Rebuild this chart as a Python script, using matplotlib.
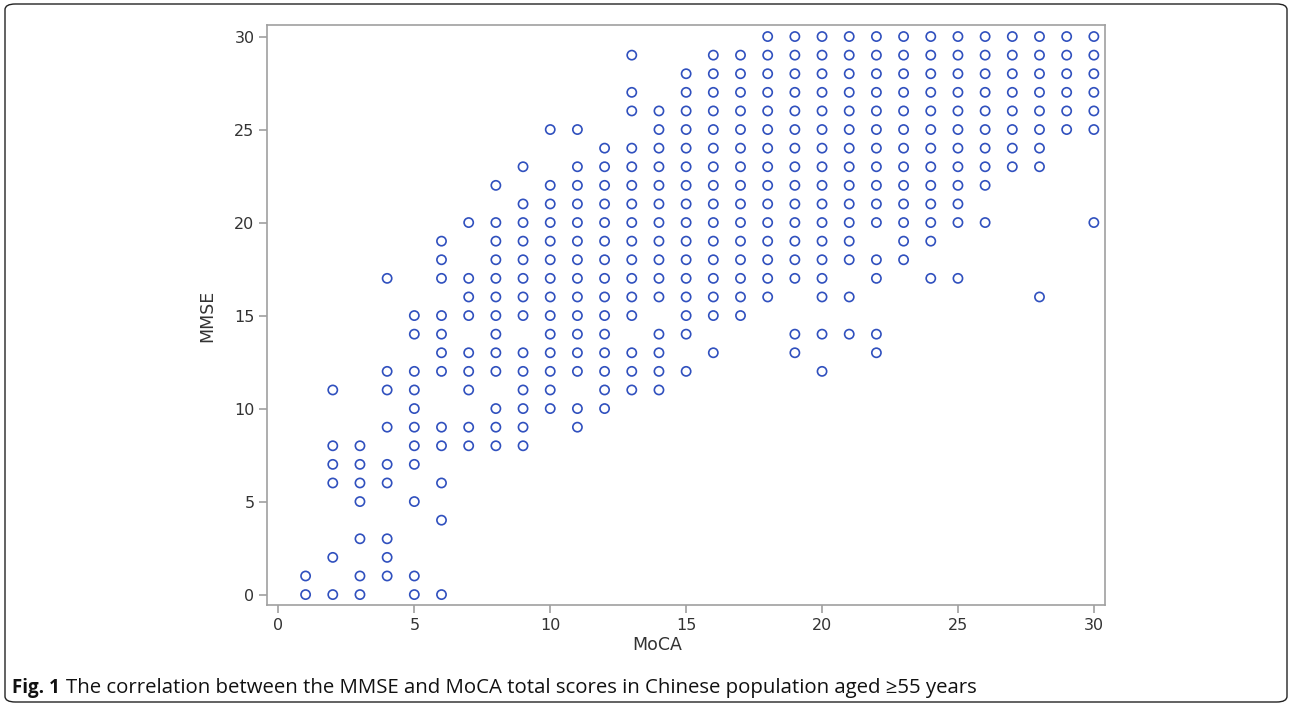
import matplotlib
matplotlib.use("Agg")
import matplotlib.pyplot as plt
from matplotlib.patches import FancyBboxPatch

# MMSE values observed for each MoCA score
moca_scores = list(range(1, 31))
mmse_by_moca = {
    1: [0, 1],
    2: [0, 2, 6, 7, 8, 11],
    3: [0, 1, 3, 5, 6, 7, 8],
    4: [1, 2, 3, 6, 7, 9, 11, 12, 17],
    5: [0, 1, 5, 7, 8, 9, 10, 11, 12, 14, 15],
    6: [0, 4, 6, 8, 9, 12, 13, 14, 15, 17, 18, 19],
    7: [8, 9, 11, 12, 13, 15, 16, 17, 20],
    8: [8, 9, 10, 12, 13, 14, 15, 16, 17, 18, 19, 20, 22],
    9: [8, 9, 10, 11, 12, 13, 15, 16, 17, 18, 19, 20, 21, 23],
    10: [10, 11, 12, 13, 14, 15, 16, 17, 18, 19, 20, 21, 22, 25],
    11: [9, 10, 12, 13, 14, 15, 16, 17, 18, 19, 20, 21, 22, 23, 25],
    12: [10, 11, 12, 13, 14, 15, 16, 17, 18, 19, 20, 21, 22, 23, 24],
    13: [11, 12, 13, 15, 16, 17, 18, 19, 20, 21, 22, 23, 24, 26, 27, 29],
    14: [11, 12, 13, 14, 16, 17, 18, 19, 20, 21, 22, 23, 24, 25, 26],
    15: [12, 14, 15, 16, 17, 18, 19, 20, 21, 22, 23, 24, 25, 26, 27, 28],
    16: [13, 15, 16, 17, 18, 19, 20, 21, 22, 23, 24, 25, 26, 27, 28, 29],
    17: [15, 16, 17, 18, 19, 20, 21, 22, 23, 24, 25, 26, 27, 28, 29],
    18: [16, 17, 18, 19, 20, 21, 22, 23, 24, 25, 26, 27, 28, 29, 30],
    19: [13, 14, 17, 18, 19, 20, 21, 22, 23, 24, 25, 26, 27, 28, 29, 30],
    20: [12, 14, 16, 17, 18, 19, 20, 21, 22, 23, 24, 25, 26, 27, 28, 29, 30],
    21: [14, 16, 18, 19, 20, 21, 22, 23, 24, 25, 26, 27, 28, 29, 30],
    22: [13, 14, 17, 18, 20, 21, 22, 23, 24, 25, 26, 27, 28, 29, 30],
    23: [18, 19, 20, 21, 22, 23, 24, 25, 26, 27, 28, 29, 30],
    24: [17, 19, 20, 21, 22, 23, 24, 25, 26, 27, 28, 29, 30],
    25: [17, 20, 21, 22, 23, 24, 25, 26, 27, 28, 29, 30],
    26: [20, 22, 23, 24, 25, 26, 27, 28, 29, 30],
    27: [23, 24, 25, 26, 27, 28, 29, 30],
    28: [16, 23, 24, 25, 26, 27, 28, 29, 30],
    29: [25, 26, 27, 28, 29, 30],
    30: [20, 25, 26, 27, 28, 29, 30],
}
x_ticks = [0, 5, 10, 15, 20, 25, 30]
y_ticks = [0, 5, 10, 15, 20, 25, 30]

xs, ys = [], []
for m in moca_scores:
    for v in mmse_by_moca[m]:
        xs.append(m)
        ys.append(v)

W, H = 1292, 706
fig = plt.figure(figsize=(W / 100, H / 100), dpi=100)
ax = fig.add_axes([267 / W, 1 - 605 / H, (1105 - 267) / W, (605 - 25) / H])

ax.scatter(xs, ys, s=44, facecolors="none", edgecolors="#3050BE", linewidths=1.2, zorder=3)

ax.set_xlim(-0.42, 30.41)
ax.set_ylim(-0.56, 30.62)
ax.set_xticks(x_ticks)
ax.set_yticks(y_ticks)
for sp in ax.spines.values():
    sp.set_color("#A0A0A0")
    sp.set_linewidth(1.2)
ax.tick_params(axis="both", colors="#A0A0A0", length=6, width=1.2,
               labelcolor="#333333", labelsize=11.5, pad=3)
ax.set_xlabel("MoCA", fontsize=12.5, color="#333333")
ax.set_ylabel("MMSE", fontsize=12.5, color="#333333")
# label positions (pixels -> axes fraction)
ax.xaxis.set_label_coords((657 - 267) / (1105 - 267), -(645 - 605) / (605 - 25), transform=ax.transAxes)
ax.xaxis.label.set_va("center")
ax.yaxis.set_label_coords(-(267 - 207) / (1105 - 267), (605 - 316) / (605 - 25), transform=ax.transAxes)
ax.yaxis.label.set_va("center")

# outer rounded frame
frame = FancyBboxPatch((5 / W, 4 / H), (W - 10) / W, (H - 8) / H,
                       boxstyle="round,pad=0,rounding_size=0.008",
                       transform=fig.transFigure, fill=False,
                       edgecolor="#222222", linewidth=1.0)
fig.patches.append(frame)

cap_bold = fig.text(12 / W, 1 - 688 / H, "Fig. 1", fontsize=13.5, fontweight="bold",
                    family="Open Sans", color="#111111", va="center", ha="left")
fig.canvas.draw()
bb = cap_bold.get_window_extent()
fig.text((bb.x1 + 6) / W, 1 - 688 / H,
         "The correlation between the MMSE and MoCA total scores in Chinese population aged \u226555 years",
         fontsize=14.7, family="Open Sans", color="#111111", va="center", ha="left")

fig.savefig("out.png", dpi=100)
